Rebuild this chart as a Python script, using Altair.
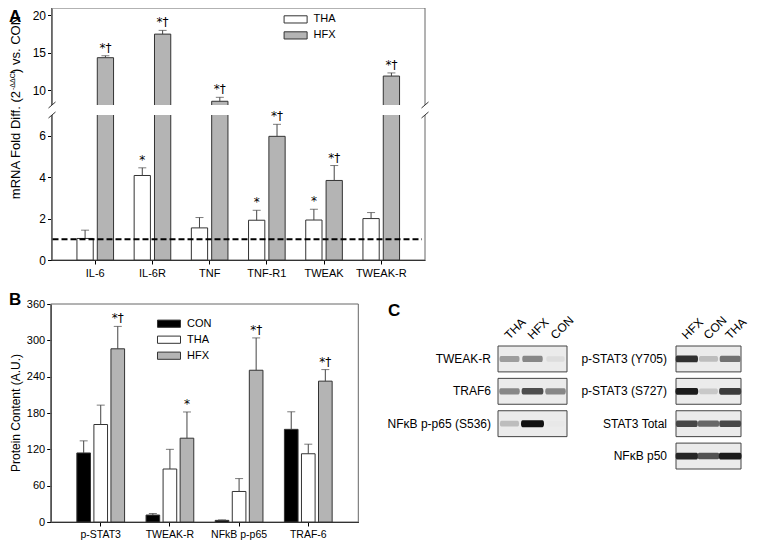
import altair as alt
import pandas as pd

# ---------------- data ----------------
# Panel A: mRNA fold difference vs CON
genes = ["IL-6", "IL-6R", "TNF", "TNF-R1", "TWEAK", "TWEAK-R"]
a_series = ["THA", "HFX"]
a_tha_mean = [1.04, 4.08, 1.55, 1.92, 1.93, 2.00]
a_tha_sem = [0.40, 0.37, 0.50, 0.48, 0.52, 0.29]
a_hfx_mean = [14.34, 17.50, 8.50, 5.97, 3.84, 11.88]
a_hfx_sem = [0.26, 0.50, 0.53, 0.58, 0.72, 0.42]
a_tha_sig = ["", "*", "", "*", "*", ""]
a_hfx_sig = ["*†", "*†", "*†", "*†", "*†", "*†"]
a_ticks = [0, 2, 4, 6, 10, 15, 20]
a_reference = 1.0

# Panel B: protein content
proteins = ["p-STAT3", "TWEAK-R", "NFkB p-p65", "TRAF-6"]
b_series = ["CON", "THA", "HFX"]
b_con_mean = [114, 11.5, 2.7, 153]
b_con_sem = [20, 2.5, 0.8, 29]
b_tha_mean = [161, 87.5, 50.4, 112.7]
b_tha_sem = [32, 32.5, 21.3, 15.8]
b_hfx_mean = [286, 138.4, 250.6, 232.6]
b_hfx_sem = [37, 43.3, 53.4, 19.1]
b_hfx_sig = ["*†", "*", "*†", "*†"]
b_ticks = [0, 60, 120, 180, 240, 300, 360]

# Panel C: western blot band intensities (0 = none, 1 = darkest)
c_left_rows = ["TWEAK-R", "TRAF6", "NFκB p-p65 (S536)"]
c_left_lanes = ["THA", "HFX", "CON"]
c_left_signal = [[0.35, 0.45, 0.05], [0.45, 0.72, 0.45], [0.20, 1.00, 0.00]]
c_right_rows = ["p-STAT3 (Y705)", "p-STAT3 (S727)", "STAT3 Total", "NFκB p50"]
c_right_lanes = ["HFX", "CON", "THA"]
c_right_signal = [[0.85, 0.20, 0.55], [0.95, 0.15, 0.80], [0.75, 0.60, 0.75], [0.90, 0.70, 0.95]]

# ---------------- layout (pixels, chart coordinates) ----------------
FONT = "Liberation Sans"
SYMFONT = "DejaVu Sans"
W, H = 744, 532
A_X = [43.5, 417]
A_DOM = [0, 7, 8, 21]
A_Y = [252, 107, 97, 0]
B_X = [42.7, 350.3]
B_Y = [514, 296]
CL_X = [490, 559]
CR_X = [668, 733]
C_Y = [338, 461]
BAND = "M-0.85,-0.3 L0.85,-0.3 Q1,-0.3 1,0 Q1,0.3 0.85,0.3 L-0.85,0.3 Q-1,0.3 -1,0 Q-1,-0.3 -0.85,-0.3 Z"
LEG = "M-1.6,-0.5 L1.6,-0.5 L1.6,0.5 L-1.6,0.5 Z"

one = alt.Data(values=[{}])


def txt(s, x, y, **kw):
    return alt.Chart(one).mark_text(text=s, font=FONT, color="black", **kw).encode(
        x=alt.value(x), y=alt.value(y))


def seg(x1, y1, x2, y2, **kw):
    return alt.Chart(one).mark_rule(**kw).encode(
        x=alt.value(x1), y=alt.value(y1), x2=alt.value(x2), y2=alt.value(y2))


def frame(x0, y0, x1, y1):
    return alt.Chart(one).mark_rect(fillOpacity=0, stroke="#666", strokeWidth=1).encode(
        x=alt.value(x0), x2=alt.value(x1), y=alt.value(y0), y2=alt.value(y1))


# ---------------- panel A ----------------
rowsA = []
for i, g in enumerate(genes):
    rowsA.append(dict(cat=g, series="THA", mean=a_tha_mean[i], top=a_tha_mean[i] + a_tha_sem[i], sig=a_tha_sig[i]))
    rowsA.append(dict(cat=g, series="HFX", mean=a_hfx_mean[i], top=a_hfx_mean[i] + a_hfx_sem[i], sig=a_hfx_sig[i]))
dfA = pd.DataFrame(rowsA)

xA = alt.X("cat:N", sort=genes, scale=alt.Scale(domain=genes, range=A_X, paddingInner=0.36, paddingOuter=0.445),
           axis=alt.Axis(title=None, labelAngle=0, orient="bottom", offset=-(H - A_Y[0]), tickSize=4,
                         labelFontSize=11, labelPadding=3, domainColor="black", tickColor="black",
                         labelColor="black", grid=False))
oA = alt.XOffset("series:N", sort=a_series, scale=alt.Scale(domain=a_series, paddingInner=0.2, paddingOuter=0))
yScaleA = alt.Scale(domain=A_DOM, range=A_Y, nice=False, zero=False)
yAxisA = alt.Axis(title=None, values=a_ticks, orient="left", offset=-A_X[0], tickSize=4, labelFontSize=12,
                  domainColor="black", tickColor="black", labelColor="black", grid=False)

baseA = alt.Chart(dfA)
barsA = baseA.mark_bar(stroke="#333", strokeWidth=1).encode(
    x=xA, xOffset=oA,
    y=alt.Y("mean:Q", scale=yScaleA, axis=yAxisA),
    fill=alt.Fill("series:N", scale=alt.Scale(domain=a_series, range=["#ffffff", "#b4b4b4"]),
                  legend=alt.Legend(title=None, orient="none", legendX=279.6, legendY=3.4, symbolType=LEG,
                                    symbolSize=207, symbolStrokeColor="#333", symbolStrokeWidth=1,
                                    labelFontSize=11, labelOffset=10, rowPadding=2, padding=0,
                                    labelColor="black", labelFont=FONT)))
errA = baseA.mark_rule(color="#444", strokeWidth=1).encode(
    x=xA, xOffset=oA, y=alt.Y("mean:Q", scale=yScaleA, axis=yAxisA), y2="top:Q")
capA = baseA.mark_tick(color="#444", size=8, thickness=1, orient="horizontal").encode(
    x=xA, xOffset=oA, y=alt.Y("top:Q", scale=yScaleA, axis=yAxisA))
sigA = baseA.mark_text(font=SYMFONT, fontSize=12, baseline="bottom", dy=-1, color="black").encode(
    x=xA, xOffset=oA, y=alt.Y("top:Q", scale=yScaleA, axis=yAxisA), text="sig:N")
gapA = alt.Chart(one).mark_rect(fill="white").encode(
    y=alt.YDatum(7, scale=yScaleA, type="quantitative"), y2=alt.Y2Datum(8),
    x=alt.value(38), x2=alt.value(423))
dashA = alt.Chart(one).mark_rule(color="black", strokeWidth=2, strokeDash=[6, 3]).encode(
    y=alt.YDatum(a_reference, scale=yScaleA, type="quantitative"),
    x=alt.value(A_X[0] + 1), x2=alt.value(A_X[1] - 3))
breaks = []
for bx in (A_X[0] + 0.5, A_X[1]):
    for by in (A_Y[2], A_Y[1]):
        breaks.append(seg(bx - 3.5, by + 3, bx + 3.5, by - 3, color="#333", strokeWidth=1))

titleA = [
    txt("mRNA Fold Diff. (2", 8, 83, angle=270, align="right", baseline="middle", fontSize=13),
    txt("-ΔΔCt", 4.5, 82, angle=270, align="left", baseline="middle", fontSize=7),
    txt(") vs. CON", 8, 65, angle=270, align="left", baseline="middle", fontSize=13),
    txt("A", 1, 1, align="left", baseline="top", fontSize=17, fontWeight="bold"),
]

panelA = alt.layer(frame(A_X[0], A_Y[3], A_X[1], A_Y[0]), barsA, errA, capA, gapA, *breaks, sigA, dashA, *titleA)

# ---------------- panel B ----------------
rowsB = []
for i, p in enumerate(proteins):
    rowsB.append(dict(cat=p, series="CON", mean=b_con_mean[i], top=b_con_mean[i] + b_con_sem[i], sig=""))
    rowsB.append(dict(cat=p, series="THA", mean=b_tha_mean[i], top=b_tha_mean[i] + b_tha_sem[i], sig=""))
    rowsB.append(dict(cat=p, series="HFX", mean=b_hfx_mean[i], top=b_hfx_mean[i] + b_hfx_sem[i], sig=b_hfx_sig[i]))
dfB = pd.DataFrame(rowsB)

xB = alt.X("cat:N", sort=proteins, scale=alt.Scale(domain=proteins, range=B_X, paddingInner=0.31, paddingOuter=0.378),
           axis=alt.Axis(title=None, labelAngle=0, orient="bottom", offset=-(H - B_Y[0]), tickSize=4,
                         labelFontSize=10.5, labelPadding=3, domainColor="black", tickColor="black",
                         labelColor="black", grid=False))
oB = alt.XOffset("series:N", sort=b_series, scale=alt.Scale(domain=b_series, paddingInner=0.2, paddingOuter=0))
yScaleB = alt.Scale(domain=[0, 360], range=B_Y, nice=False, zero=False)
yAxisB = alt.Axis(title=None, values=b_ticks, orient="left", offset=-B_X[0], tickSize=4, labelFontSize=11,
                  domainColor="black", tickColor="black", labelColor="black", grid=False)

baseB = alt.Chart(dfB)
barsB = baseB.mark_bar(stroke="#333", strokeWidth=1).encode(
    x=xB, xOffset=oB,
    y=alt.Y("mean:Q", scale=yScaleB, axis=yAxisB),
    fill=alt.Fill("series:N", scale=alt.Scale(domain=b_series, range=["#000000", "#ffffff", "#b4b4b4"]),
                  legend=alt.Legend(title=None, orient="none", legendX=153, legendY=307.7, symbolType=LEG,
                                    symbolSize=207, symbolStrokeColor="#333", symbolStrokeWidth=1,
                                    labelFontSize=11, labelOffset=10, rowPadding=2, padding=0,
                                    labelColor="black", labelFont=FONT)))
errB = baseB.mark_rule(color="#444", strokeWidth=1).encode(
    x=xB, xOffset=oB, y=alt.Y("mean:Q", scale=yScaleB, axis=yAxisB), y2="top:Q")
capB = baseB.mark_tick(color="#444", size=8, thickness=1, orient="horizontal").encode(
    x=xB, xOffset=oB, y=alt.Y("top:Q", scale=yScaleB, axis=yAxisB))
sigB = baseB.mark_text(font=SYMFONT, fontSize=12, baseline="bottom", dy=-1, color="black").encode(
    x=xB, xOffset=oB, y=alt.Y("top:Q", scale=yScaleB, axis=yAxisB), text="sig:N")
titleB = [
    txt("Protein Content (A.U.)", 8, (B_Y[0] + B_Y[1]) / 2, angle=270, align="center", baseline="middle", fontSize=12),
    txt("B", 1, 284, align="left", baseline="top", fontSize=17, fontWeight="bold"),
]
panelB = alt.layer(frame(B_X[0], B_Y[1], B_X[1], B_Y[0]), barsB, errB, capB, sigB, *titleB)


# ---------------- panel C ----------------
def gray(s):
    v = int(round(232 - s * 215))
    return "#%02x%02x%02x" % (v, v, v)


yC = alt.Scale(domain=[0, 1, 2, 3], range=C_Y, paddingInner=0.2, paddingOuter=0)


def blot(rows, lanes, signal, xr, label_x):
    dfb = pd.DataFrame([dict(ri=i, row=r) for i, r in enumerate(rows)])
    dfs = pd.DataFrame([dict(ri=i, lane=l, s=signal[i][j], col=gray(signal[i][j]), sz=330 + 200 * signal[i][j])
                        for i in range(len(rows)) for j, l in enumerate(lanes)])
    dfl = pd.DataFrame([dict(lane=l) for l in lanes])
    xs = alt.Scale(domain=lanes, range=xr, paddingInner=0, paddingOuter=0)
    box = alt.Chart(dfb).mark_rect(fill="#ebebeb", stroke="#444", strokeWidth=1).encode(
        y=alt.Y("ri:O", scale=yC, axis=None), x=alt.value(xr[0]), x2=alt.value(xr[1]))
    bands = alt.Chart(dfs).mark_point(shape=BAND, filled=True, opacity=1, strokeWidth=0).encode(
        x=alt.X("lane:N", sort=lanes, scale=xs, axis=None),
        y=alt.Y("ri:O", scale=yC, axis=None),
        color=alt.Color("col:N", scale=None),
        size=alt.Size("sz:Q", scale=None))
    rlab = alt.Chart(dfb).mark_text(font=FONT, fontSize=12, align="right", baseline="middle", color="black").encode(
        y=alt.Y("ri:O", scale=yC, axis=None), x=alt.value(label_x), text="row:N")
    llab = alt.Chart(dfl).mark_text(font=FONT, fontSize=12, align="left", baseline="alphabetic", angle=315,
                                    color="black").encode(
        x=alt.X("lane:N", sort=lanes, scale=xs, axis=None), y=alt.value(C_Y[0] - 6), text="lane:N")
    return alt.layer(box, bands, rlab, llab)


panelCL = alt.layer(blot(c_left_rows, c_left_lanes, c_left_signal, CL_X, 483),
                    txt("C", 380, 295, align="left", baseline="top", fontSize=17, fontWeight="bold"))
panelCR = blot(c_right_rows, c_right_lanes, c_right_signal, CR_X, 659)

chart = alt.layer(panelA, panelB, panelCL, panelCR).resolve_scale(
    x="independent", y="independent", xOffset="independent", fill="independent"
).resolve_legend(fill="independent").resolve_axis(x="independent", y="independent").properties(
    width=W, height=H, padding=0, autosize=alt.AutoSizeParams(type="none")
).configure(font=FONT).configure_view(stroke=None)

chart.save("out.html", embed_options={"renderer": "svg", "actions": False})
